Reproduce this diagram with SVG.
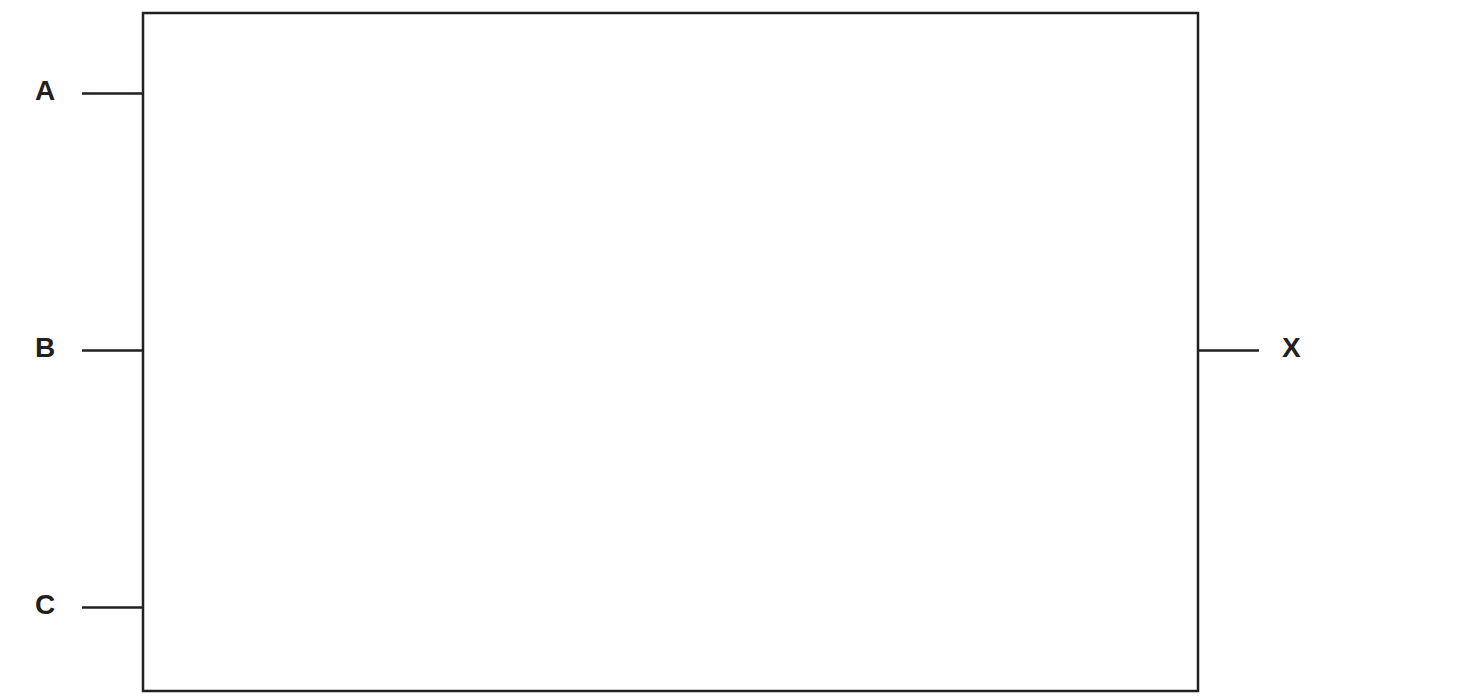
<svg xmlns="http://www.w3.org/2000/svg" width="1462" height="698" viewBox="0 0 1462 698">
<style>
.ln{stroke:#231f20;stroke-width:2.5;fill:none}
.lb{font-family:"Liberation Sans",Arial,sans-serif;font-weight:bold;font-size:28px;fill:#231f20}
</style>
<rect width="1462" height="698" fill="#fff"/>
<g id="box"><rect class="ln" x="143" y="13" width="1055" height="678"/></g>
<g id="connectors">
<line class="ln" x1="82" y1="93.5" x2="143" y2="93.5"/>
<line class="ln" x1="82" y1="350.5" x2="143" y2="350.5"/>
<line class="ln" x1="82" y1="607.5" x2="143" y2="607.5"/>
<line class="ln" x1="1198" y1="350.5" x2="1259" y2="350.5"/>
</g>
<g id="label-A"><text class="lb" x="35" y="100">A</text></g>
<g id="label-B"><text class="lb" x="35" y="357">B</text></g>
<g id="label-C"><text class="lb" x="35" y="614">C</text></g>
<g id="label-X"><text class="lb" x="1282" y="357">X</text></g>
</svg>
